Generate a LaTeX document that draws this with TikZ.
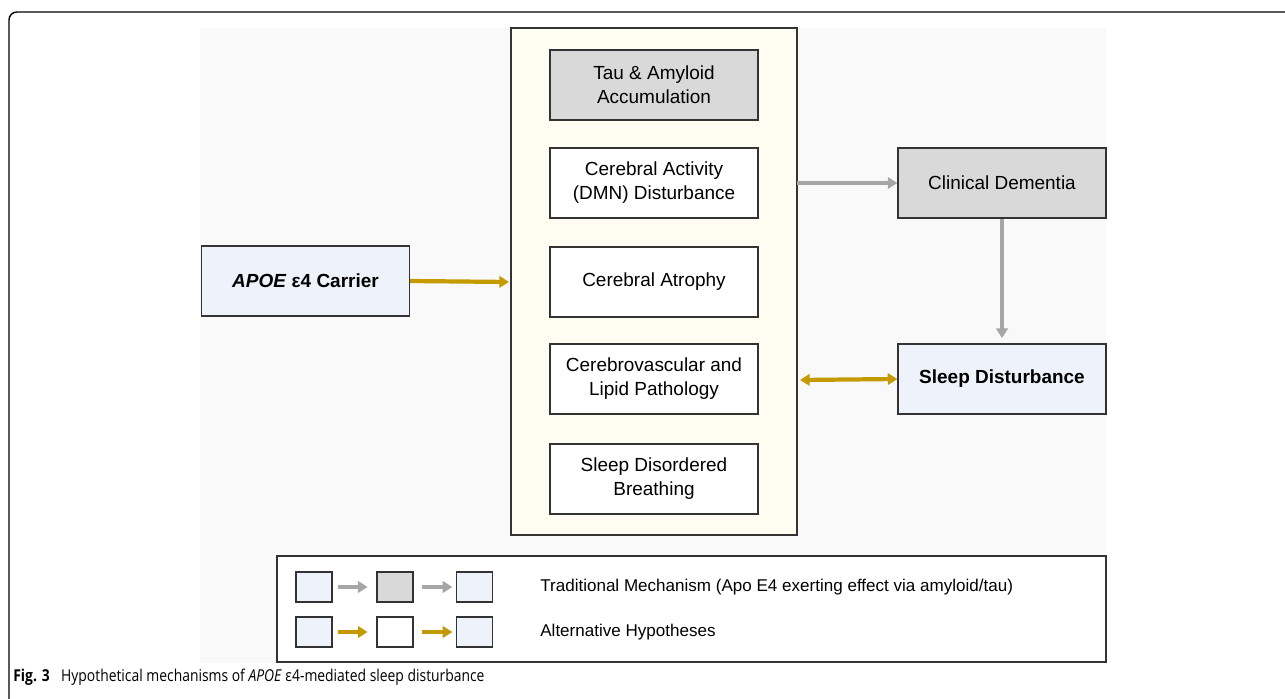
\documentclass[tikz,border=0pt]{standalone}
\usepackage{fontspec}
\setmainfont{Liberation Sans}
\newfontfamily\capfont[FakeStretch=0.85]{Open Sans}
\usetikzlibrary{arrows.meta}

\definecolor{boxline}{RGB}{51,51,51}
\definecolor{paleblue}{RGB}{238,243,251}
\definecolor{midgrey}{RGB}{217,217,217}
\definecolor{cream}{RGB}{255,253,242}
\definecolor{bggrey}{RGB}{249,249,249}
\definecolor{linkgrey}{RGB}{166,166,166}
\definecolor{linkgold}{RGB}{196,154,0}

\tikzset{
  box/.style={draw=boxline, line width=0.7pt, minimum width=4.16cm, minimum height=1.4cm,
    align=center, inner sep=0pt, font=\fontsize{10.8}{13.6}\selectfont},
  keybox/.style={draw=boxline, line width=0.7pt, minimum width=0.72cm, minimum height=0.6cm, inner sep=0pt},
  tip/.tip={Triangle[length=5.5pt,width=6.5pt]},
  greylink/.style={draw=linkgrey, line width=2.4pt, -tip},
  goldlink/.style={draw=linkgold, line width=2.4pt, -tip},
  keytext/.style={anchor=west, inner sep=0pt, font=\fontsize{9.7}{11}\selectfont}
}

\begin{document}
\begin{tikzpicture}[x=0.02cm, y=-0.02cm]
    \useasboundingbox (0,0) rectangle (1285,699);

    % frame and backdrop
    \draw[line width=0.8pt, rounded corners=4.5pt] (9,699) -- (9,12) -- (1285,12);
    \fill[bggrey] (200,28) rectangle (1106,663);
    \draw[boxline, line width=0.7pt, fill=cream] (511,28) rectangle (797,535);

    \coordinate (c1) at (654,85);
    \coordinate (c2) at (654,183);
    \coordinate (c3) at (654,282);
    \coordinate (c4) at (654,379);
    \coordinate (c5) at (654,479);

    \node[box, fill=midgrey] (tau) at (c1) {Tau \& Amyloid\\Accumulation};
    \node[box, fill=white] (dmn) at (c2) {Cerebral Activity\\(DMN) Disturbance};
    \node[box, fill=white] (atrophy) at (c3) {Cerebral Atrophy};
    \node[box, fill=white] (vasc) at (c4) {Cerebrovascular and\\Lipid Pathology};
    \node[box, fill=white] (sdb) at (c5) {Sleep Disordered\\Breathing};

    \node[box, fill=paleblue, font=\fontsize{10.8}{13.6}\selectfont\bfseries] (apoe) at (305.5,281) {\textit{APOE} ε4 Carrier};
    \node[box, fill=midgrey] (dementia) at (1002,183) {Clinical Dementia};
    \node[box, fill=paleblue, font=\fontsize{10.8}{13.6}\selectfont\bfseries] (sleep) at (1002,379) {Sleep Disturbance};

    \coordinate (inL) at (509,282);
    \coordinate (outR) at (797,183);
    \coordinate (biL) at (800,380);

    \draw[goldlink] (apoe.east) -- (inL);
    \draw[greylink] (outR) -- (dementia.west);
    \draw[greylink, shorten >=3pt] (dementia.south) -- (sleep.north);
    \draw[goldlink, tip-tip] (biL) -- (sleep.west);

    % legend
    \draw[boxline, line width=0.7pt, fill=white] (277,556) rectangle (1106,662);

    \node[keybox, fill=paleblue] (a1) at (314,587) {};
    \node[keybox, fill=midgrey] (a2) at (395,587) {};
    \node[keybox, fill=paleblue] (a3) at (474.5,587) {};
    \node[keybox, fill=paleblue] (b1) at (314,632) {};
    \node[keybox, fill=white] (b2) at (395,632) {};
    \node[keybox, fill=paleblue] (b3) at (474.5,632) {};

    \draw[greylink, shorten <=3pt, shorten >=5pt] (a1) -- (a2);
    \draw[greylink, shorten <=5pt, shorten >=2pt] (a2) -- (a3);
    \draw[goldlink, shorten <=3pt, shorten >=5pt] (b1) -- (b2);
    \draw[goldlink, shorten <=5pt, shorten >=2pt] (b2) -- (b3);

    \node[keytext] (ktrad) at (540,587) {Traditional Mechanism (Apo E4 exerting effect via amyloid/tau)};
    \node[keytext] (kalt) at (540,632) {Alternative Hypotheses};

    % caption
    \node[anchor=base west, inner sep=0pt, font=\capfont\fontsize{9.3}{11}\selectfont] (caption) at (13,681)
      {\textbf{Fig. 3}\hspace{0.7em}Hypothetical mechanisms of \textit{APOE} ε4-mediated sleep disturbance};
\end{tikzpicture}
\end{document}
